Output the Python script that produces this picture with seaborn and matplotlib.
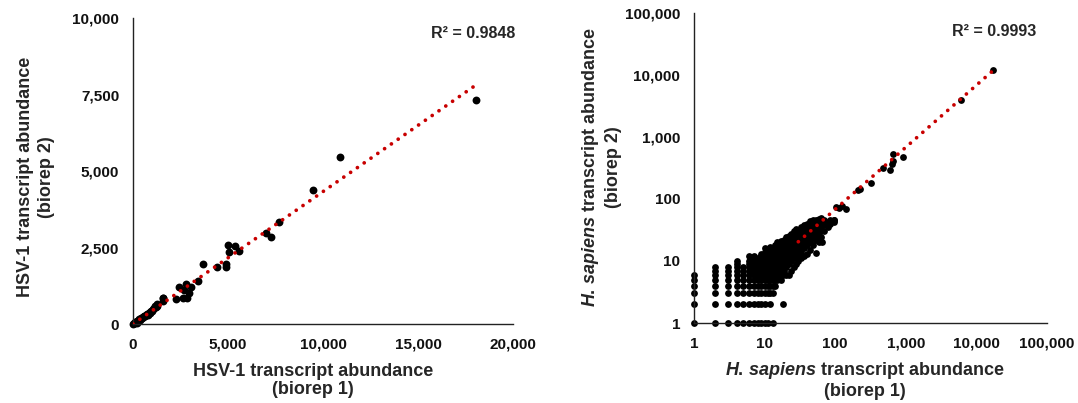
import matplotlib
matplotlib.use("Agg")
import matplotlib.pyplot as plt
import seaborn as sns
import pandas as pd
from matplotlib.ticker import FuncFormatter, FixedLocator, NullLocator

# ---------------- Left panel: HSV-1 transcripts ----------------
hsv_rep1 = [20, 50, 80, 120, 150, 190, 220, 260, 300, 340, 380, 420, 460, 500, 550,
            600, 650, 700, 740, 780, 820, 870, 900, 950, 1000, 1050, 1100, 1150, 1200,
            1240, 1180, 1250, 1566, 1585, 1561, 2274, 2401, 2619, 2853, 2800, 3073,
            2946, 2700, 3435, 3672, 4397, 4887, 4887, 5015, 5341, 5033, 5559, 7011,
            7265, 7664, 9461, 10877, 18046]
hsv_rep2 = [10, 25, 30, 60, 50, 45, 100, 110, 130, 150, 140, 200, 190, 230, 220,
            270, 260, 300, 330, 290, 360, 400, 350, 440, 420, 480, 520, 560, 540,
            590, 600, 650, 752, 860, 840, 806, 1198, 860, 860, 1307, 1198,
            1024, 1100, 1405, 1950, 1873, 1950, 1852, 2582, 2560, 2342, 2397, 2963,
            2832, 3344, 4380, 5468, 7320]
hsv_trend_x = [0, 18046]
hsv_trend_y = [0, 7810]
hsv_r2 = "R\u00b2 = 0.9848"
hsv_xticks = [0, 5000, 10000, 15000, 20000]
hsv_yticks = [0, 2500, 5000, 7500, 10000]

# ---------------- Right panel: H. sapiens transcripts ----------------
hs_col_x = [1, 2, 3, 4, 5, 6, 7, 8, 9, 10, 11, 12, 13, 14]
hs_col_y = [
    [1, 2, 3, 4, 5, 6],
    [1, 2, 3, 4, 5, 6, 7, 8],
    [1, 2, 3, 4, 5, 6, 7, 8],
    [1, 2, 3, 4, 5, 6, 7, 8, 9, 10],
    [1, 2, 3, 4, 5, 6, 7, 8],
    [1, 2, 3, 4, 5, 6, 7, 8, 9, 10, 12],
    [1, 2, 3, 4, 5, 6, 7, 8, 9, 10, 11, 12],
    [1, 2, 3, 4, 5, 6, 7, 8, 9, 10, 11],
    [1, 2, 3, 4, 5, 6, 7, 8, 9, 10, 12, 13],
    [1, 2, 3, 4, 5, 6, 7, 8, 9, 10, 11, 12, 14, 16],
    [1, 3, 4, 5, 6, 7, 8, 9, 10, 11, 12, 13, 15],
    [2, 3, 4, 5, 6, 7, 8, 9, 10, 11, 13, 15, 17],
    [1, 3, 4, 5, 6, 7, 8, 9, 10, 12, 14, 16],
    [4, 5, 6, 7, 8, 9, 10, 11, 13, 15, 18],
]
hs_cloud_x = [15, 16, 17, 18, 19, 20, 22, 24, 26, 28, 30, 33, 36, 40, 44, 48, 53,
              58, 63, 70, 78, 85, 95]
hs_cloud_y = [
    [5, 6, 7, 8, 9, 10, 11, 12, 13, 15, 17, 20],
    [6, 7, 8, 10, 11, 13, 14, 16, 19],
    [5, 7, 9, 10, 12, 14, 15, 18, 21],
    [2, 6, 8, 9, 11, 13, 16, 17, 20],
    [7, 9, 10, 12, 14, 15, 18, 22],
    [6, 8, 11, 13, 15, 17, 19, 24],
    [6, 9, 10, 12, 14, 16, 18, 21, 25],
    [7, 10, 12, 13, 15, 17, 20, 23, 27],
    [8, 11, 13, 16, 18, 20, 22, 26, 30],
    [9, 12, 14, 17, 19, 22, 25, 29, 33],
    [10, 13, 16, 18, 21, 24, 27, 31],
    [11, 14, 17, 20, 23, 26, 30, 35],
    [12, 16, 19, 22, 25, 28, 33, 38],
    [13, 18, 22, 25, 29, 34, 40],
    [15, 20, 24, 28, 32, 38, 44],
    [18, 23, 28, 33, 40, 46],
    [22, 27, 32, 37, 45],
    [20, 26, 31, 38, 48],
    [24, 32, 38, 45, 50],
    [30, 38, 45],
    [35, 42],
    [40, 46],
    [43, 46],
]
hs_high_x = [53, 64, 89, 96, 102, 113, 124, 142, 213, 225, 323, 480, 600, 630, 650,
             665, 920, 6050, 17400]
hs_high_y = [13.5, 20, 44, 46, 74, 71, 76, 68, 138, 142, 182, 310, 290, 363, 405,
             520, 475, 3890, 11800]
hs_trend_x = [30, 17400]
hs_trend_y = [20.4, 11830]
hs_r2 = "R\u00b2 = 0.9993"
hs_ticks = [1, 10, 100, 1000, 10000, 100000]

# ---------------- Build tables ----------------
hsv_df = pd.DataFrame({"rep1": hsv_rep1, "rep2": hsv_rep2})
hs_rows = []
for cx, ys in zip(hs_col_x + hs_cloud_x, hs_col_y + hs_cloud_y):
    for cy in ys:
        hs_rows.append((cx, cy))
hs_rows += list(zip(hs_high_x, hs_high_y))
hs_df = pd.DataFrame(hs_rows, columns=["rep1", "rep2"])

# ---------------- Style ----------------
sns.set_style("white")
plt.rcParams["font.family"] = ["Liberation Sans", "DejaVu Sans"]
plt.rcParams["font.weight"] = "bold"
plt.rcParams["mathtext.fontset"] = "custom"
plt.rcParams["mathtext.it"] = "Liberation Sans:italic:bold"
plt.rcParams["mathtext.rm"] = "Liberation Sans:bold"
plt.rcParams["mathtext.bf"] = "Liberation Sans:bold"

trend_color = "#C80000"
dot_style = (0, (0.01, 2.2))
fmt = FuncFormatter(lambda v, p: f"{int(round(v)):,}")

fig = plt.figure(figsize=(10.78, 4.03), dpi=100)
ax1 = fig.add_axes([0.1234, 0.196, 0.3525, 0.7593])
ax2 = fig.add_axes([0.6438, 0.1985, 0.3275, 0.770])

# Left panel
sns.scatterplot(data=hsv_df, x="rep1", y="rep2", ax=ax1, color="black", s=32,
                linewidth=0, clip_on=False, zorder=2)
ax1.plot(hsv_trend_x, hsv_trend_y, color=trend_color, lw=2.7,
         linestyle=dot_style, dash_capstyle="round", zorder=3)
ax1.set_xlim(0, 20000)
ax1.set_ylim(0, 10000)
ax1.xaxis.set_major_locator(FixedLocator(hsv_xticks))
ax1.yaxis.set_major_locator(FixedLocator(hsv_yticks))
ax1.text(1.005, 0.95, hsv_r2, transform=ax1.transAxes, ha="right", va="center",
         fontsize=11.5, fontweight="bold")
ax1.set_xlabel("HSV-1 transcript abundance\n(biorep 1)", fontsize=13,
               fontweight="bold", linespacing=1.1)
ax1.set_ylabel("HSV-1 transcript abundance\n(biorep 2)", fontsize=13,
               fontweight="bold", linespacing=1.3)
ax1.xaxis.set_label_coords(0.474, -0.128)
ax1.yaxis.set_label_coords(-0.205, 0.48)

# Right panel
sns.scatterplot(data=hs_df, x="rep1", y="rep2", ax=ax2, color="black", s=24,
                linewidth=0, clip_on=False, zorder=2)
ax2.plot(hs_trend_x, hs_trend_y, color=trend_color, lw=2.7,
         linestyle=dot_style, dash_capstyle="round", zorder=3)
ax2.set_xscale("log")
ax2.set_yscale("log")
ax2.set_xlim(1, 100000)
ax2.set_ylim(1, 100000)
ax2.xaxis.set_major_locator(FixedLocator(hs_ticks))
ax2.yaxis.set_major_locator(FixedLocator(hs_ticks))
ax2.xaxis.set_minor_locator(NullLocator())
ax2.yaxis.set_minor_locator(NullLocator())
ax2.text(0.9705, 0.939, hs_r2, transform=ax2.transAxes, ha="right", va="center",
         fontsize=11.5, fontweight="bold")
ax2.set_xlabel("$\\it{H.\\,sapiens}$ transcript abundance\n(biorep 1)",
               fontsize=13, fontweight="bold", linespacing=1.1)
ax2.set_ylabel("$\\it{H.\\,sapiens}$ transcript abundance\n(biorep 2)",
               fontsize=13, fontweight="bold", linespacing=1.3)
ax2.xaxis.set_label_coords(0.484, -0.12)
ax2.yaxis.set_label_coords(-0.204, 0.503)

for ax in (ax1, ax2):
    ax.xaxis.set_major_formatter(fmt)
    ax.yaxis.set_major_formatter(fmt)
    ax.tick_params(axis="both", which="both", length=0, pad=10, labelsize=11,
                   colors="#111111")
    for lbl in ax.get_xticklabels() + ax.get_yticklabels():
        lbl.set_fontweight("bold")
    sns.despine(ax=ax)
    for side in ("left", "bottom"):
        ax.spines[side].set_color("#222222")
        ax.spines[side].set_linewidth(1.0)

fig.savefig("out.png", dpi=100, facecolor="white")
